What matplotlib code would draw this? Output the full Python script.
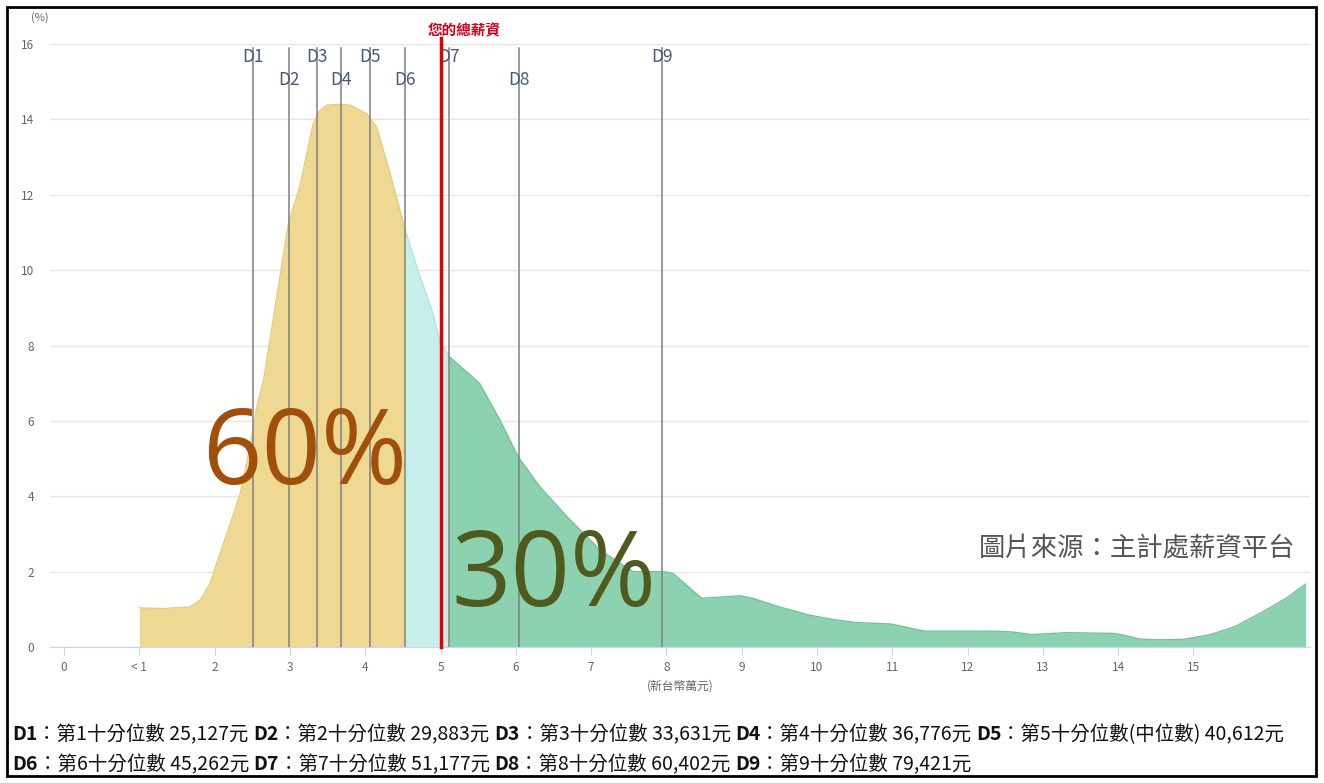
import matplotlib
matplotlib.use("Agg")
import matplotlib.pyplot as plt
import numpy as np

plt.rcParams['font.family'] = ['Noto Sans CJK TC', 'DejaVu Sans']

# income (10k NTD) vs share of workers (%)
income = [1.0, 1.3, 1.67, 1.81, 1.94, 2.07, 2.21, 2.34, 2.47, 2.56, 2.65, 2.98, 3.13,
          3.31, 3.40, 3.49, 3.65, 3.80, 4.02, 4.15, 4.33, 4.5262, 4.70, 4.90, 4.99,
          5.1177, 5.35, 5.52, 5.79, 6.03, 6.32, 6.68, 7.12, 7.56, 7.96, 8.09, 8.24,
          8.47, 8.98, 9.15, 9.49, 9.89, 10.24, 10.52, 10.98, 11.15, 11.43, 11.78,
          12.35, 12.58, 12.86, 13.32, 13.94, 14.06, 14.29, 14.52, 14.86, 15.21,
          15.55, 15.89, 16.23, 16.49]
share = [1.04, 1.02, 1.06, 1.25, 1.69, 2.48, 3.28, 4.07, 5.31, 6.37, 7.08, 11.24, 12.21,
         13.89, 14.24, 14.38, 14.40, 14.38, 14.15, 13.8, 12.57, 11.1, 10.0, 8.85, 8.14,
         7.7, 7.30, 6.99, 6.02, 5.05, 4.25, 3.46, 2.57, 2.0, 2.0, 1.95, 1.69,
         1.29, 1.36, 1.29, 1.07, 0.85, 0.72, 0.65, 0.61, 0.54, 0.42, 0.42,
         0.42, 0.40, 0.33, 0.38, 0.36, 0.32, 0.21, 0.19, 0.20, 0.32,
         0.54, 0.90, 1.29, 1.67]

decile_names = ['D1', 'D2', 'D3', 'D4', 'D5', 'D6', 'D7', 'D8', 'D9']
decile_values = [25127, 29883, 33631, 36776, 40612, 45262, 51177, 60402, 79421]
decile_desc = ['第1十分位數', '第2十分位數', '第3十分位數', '第4十分位數', '第5十分位數(中位數)',
               '第6十分位數', '第7十分位數', '第8十分位數', '第9十分位數']
your_salary = 5.0

xtick_pos = list(range(16))
xtick_labels = ['0', '< 1'] + [str(i) for i in range(2, 16)]

x = np.array(income)
y = np.array(share)
d = np.array(decile_values) / 10000.0

fig = plt.figure(figsize=(13.24, 7.83), dpi=100)
ax = fig.add_axes([0.0378, 0.1737, 0.9517, 0.770])

m1 = x <= d[5]
m2 = (x >= d[5]) & (x <= d[6])
m3 = x >= d[6]
ax.fill_between(x[m1], 0, y[m1], color='#eed892', lw=0, zorder=2)
ax.plot(x[m1], y[m1], color='#e6cc7a', lw=1, zorder=2)
ax.fill_between(x[m2], 0, y[m2], color='#c8eeec', lw=0, zorder=2)
ax.plot(x[m2], y[m2], color='#b5e4e2', lw=1, zorder=2)
ax.fill_between(x[m3], 0, y[m3], color='#8dd2b0', lw=0, zorder=2)
ax.plot(x[m3], y[m3], color='#74c29c', lw=1, zorder=2)

for i, (name, v) in enumerate(zip(decile_names, d)):
    ax.axvline(v, ymin=0, ymax=15.9 / 16, color='#7f7f7f', lw=1.1, zorder=3)
    ty = 15.65 if i % 2 == 0 else 15.05
    ax.text(v, ty, name, ha='center', va='center', fontsize=12.5,
            color='#4b5a78', zorder=4)

ax.plot([your_salary, your_salary], [0, 16.15], color='#e00000', lw=2.5,
        zorder=5, clip_on=False)
ax.text(your_salary + 0.32, 16.35, '您的總薪資', ha='center', va='center',
        fontsize=10.5, fontweight='bold', color='#d0021b')

ax.text(3.2, 5.05, '60%', ha='center', va='center', fontsize=75,
        family='Open Sans', color='#a0500a', zorder=6)
ax.text(6.5, 1.8, '30%', ha='center', va='center', fontsize=75,
        family='Open Sans', color='#4f5a1e', zorder=6)
ax.text(16.35, 2.6, '圖片來源：主計處薪資平台', ha='right', va='center',
        fontsize=19, color='#555555', zorder=6)

ax.set_xlim(-0.186, 16.55)
ax.set_ylim(0, 16)
ax.set_yticks(range(0, 17, 2))
ax.set_xticks(xtick_pos)
ax.set_xticklabels(xtick_labels)
ax.grid(axis='y', color='#e6e6e6', lw=1, zorder=0)
ax.set_axisbelow(True)
for s in ['top', 'right', 'left']:
    ax.spines[s].set_visible(False)
ax.spines['bottom'].set_color('#ccd6eb')
ax.tick_params(axis='y', length=0, pad=11.5, labelsize=8.5, labelcolor='#666666')
ax.tick_params(axis='x', length=6, color='#ccd6eb', pad=4, labelsize=8.5,
               labelcolor='#666666')
ax.set_xlabel('(新台幣萬元)', fontsize=8.5, color='#666666', labelpad=4)
fig.text(40 / 1324, 1 - 18 / 783, '(%)', fontsize=8, color='#666666',
         ha='center', va='center')

# decile legend below the chart, bold name then description, placed in sequence
rows = [range(0, 5), range(5, 9)]
row_y = [1 - 740 / 783, 1 - 770 / 783]
fig.canvas.draw()
renderer = fig.canvas.get_renderer()
for r, idx in enumerate(rows):
    cur_x = 12
    for i in idx:
        parts = [(decile_names[i], 'bold'),
                 ('：' + decile_desc[i] + ' {:,}元 '.format(decile_values[i]), 'normal')]
        for txt, w in parts:
            t = fig.text(cur_x / fig.bbox.width, row_y[r], txt, fontsize=14,
                         fontweight=w, color='#111111', ha='left', va='baseline')
            cur_x = t.get_window_extent(renderer).x1

# outer frame
fig.add_artist(plt.Rectangle((7 / 1324, 7 / 783), 1 - 15 / 1324, 1 - 14 / 783,
                             transform=fig.transFigure, fill=False,
                             edgecolor='black', lw=2))

fig.savefig('out.png', dpi=100)
